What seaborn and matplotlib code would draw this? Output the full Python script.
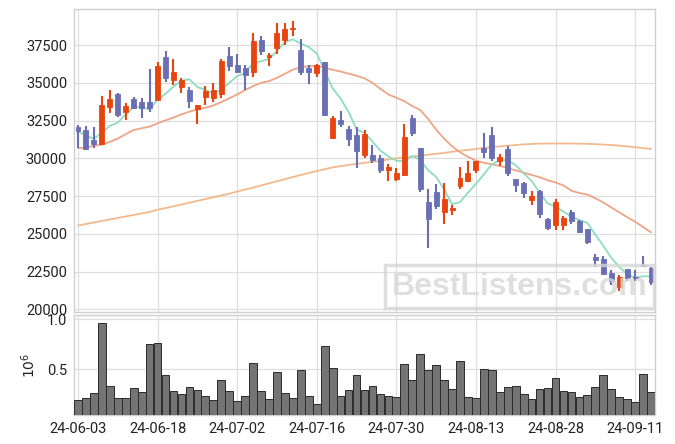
import numpy as np
import pandas as pd
import matplotlib
matplotlib.use("Agg")
import matplotlib.pyplot as plt
import seaborn as sns

# ---------------- data ----------------
opens = [32050, 31900, 31200, 30950, 33400, 34250, 33100, 33900, 33700, 33700,
         33850, 36700, 35200, 34700, 34550, 33250, 34050, 34000, 34250, 36750,
         36150, 35950, 35700, 37850, 36700, 37300, 37850, 38550, 37150, 36000,
         35650, 36350, 31350, 32550, 31950, 31550, 30250, 30200, 30050, 29250,
         28600, 28900, 32700, 30700, 27100, 27750, 26450, 26600, 28150, 28500,
         29250, 30650, 31550, 29850, 30600, 28650, 28350, 27250, 27850, 25950,
         25600, 25600, 26450, 25850, 25300, 23450, 23300, 22400, 21500, 22650,
         22150, 22950, 22750]
highs = [32200, 32150, 32100, 34150, 34500, 34300, 33650, 34050, 34000, 35900,
         36400, 37100, 36600, 35300, 34750, 33550, 34800, 35000, 36550, 37350,
         36900, 36200, 38300, 38100, 36950, 38950, 38950, 39100, 37900, 36200,
         36250, 36400, 32800, 33150, 32150, 32050, 31900, 30850, 30200, 29650,
         29350, 32300, 32900, 30700, 27950, 28300, 28350, 26900, 29400, 29850,
         29850, 31650, 32050, 30300, 30800, 28650, 28400, 27850, 27900, 26050,
         27300, 26200, 26600, 25900, 25300, 23650, 23500, 22600, 22250, 22650,
         22600, 23550, 22800]
lows = [30700, 30550, 30700, 30900, 33000, 32750, 32550, 33250, 32700, 33050,
        33850, 35050, 34850, 34300, 33300, 32300, 33550, 33700, 34000, 35800,
        35700, 34500, 35400, 36850, 36100, 36900, 37500, 38100, 35500, 34900,
        35400, 32850, 31250, 32050, 30800, 29350, 30050, 29700, 29050, 28500,
        28500, 28800, 31500, 27750, 24050, 26650, 25650, 26250, 27950, 28400,
        29050, 30000, 29850, 29500, 28850, 27750, 27350, 26900, 26050, 25250,
        25250, 25250, 25650, 25050, 24300, 22800, 22300, 21600, 21200, 21850,
        21850, 22800, 21600]
closes = [31800, 30600, 30950, 33500, 33900, 32850, 33450, 33300, 33300, 33300,
          36100, 35350, 35750, 35200, 33800, 33500, 34450, 34500, 36450, 36100,
          35700, 35500, 37750, 37100, 36850, 38300, 38550, 38600, 35700, 35700,
          36200, 32850, 32700, 32300, 31300, 30500, 31600, 29900, 29250, 29400,
          29050, 31400, 31650, 28000, 25950, 26850, 27300, 26700, 28700, 29050,
          29800, 30450, 30000, 30100, 29000, 28200, 27700, 27500, 26300, 25400,
          27100, 26050, 25850, 25150, 24450, 23250, 22350, 21850, 22150, 22050,
          22050, 22850, 21800]
volumes = [195000, 212000, 262000, 957000, 331000, 212000, 212000, 311000, 272000, 752000,
           758000, 440000, 285000, 252000, 320000, 295000, 232000, 195000, 390000, 285000,
           185000, 232000, 560000, 285000, 200000, 470000, 262000, 212000, 490000, 232000,
           152000, 728000, 510000, 232000, 290000, 440000, 290000, 330000, 252000, 232000,
           222000, 550000, 390000, 650000, 490000, 540000, 390000, 300000, 580000, 222000,
           212000, 500000, 490000, 272000, 320000, 330000, 252000, 200000, 300000, 310000,
           410000, 285000, 272000, 222000, 242000, 320000, 440000, 300000, 222000, 200000,
           172000, 450000, 272000]
ma_short = [31800, 31500, 31300, 31700, 32150, 32360, 32930, 33400, 33360, 33240,
            33890, 34270, 34760, 35140, 35240, 34720, 34540, 34290, 34540, 35000,
            35440, 35650, 36300, 36430, 36580, 37100, 37710, 37880, 37600, 37370,
            36950, 35810, 34630, 33950, 33070, 31930, 31680, 31120, 30510, 30130,
            29840, 29800, 30150, 29900, 29210, 28770, 27950, 26960, 27100, 27720,
            28310, 28940, 29600, 29880, 29870, 29550, 29000, 28500, 27740, 27020,
            26800, 26470, 26140, 25910, 25720, 24950, 24210, 23410, 22810, 22330,
            22090, 22190, 22180]
ma_mid = [30680, 30700, 30830, 30900, 31090, 31310, 31600, 31880, 31990, 32100,
          32320, 32520, 32700, 32910, 33090, 33240, 33350, 33500, 33720, 33970,
          34230, 34520, 34780, 35000, 35110, 35330, 35600, 35870, 36030, 36100,
          36140, 35990, 35860, 35750, 35610, 35470, 35300, 35000, 34600, 34230,
          34010, 33790, 33460, 33200, 32600, 31900, 31300, 30800, 30400, 30100,
          29850, 29700, 29600, 29500, 29350, 29200, 29050, 28900, 28750, 28550,
          28400, 28200, 27850, 27700, 27600, 27350, 27080, 26750, 26420, 26100,
          25800, 25450, 25100]
ma_long = [25550, 25650, 25750, 25850, 25950, 26050, 26150, 26250, 26350, 26450,
           26600, 26700, 26820, 26940, 27060, 27180, 27300, 27420, 27540, 27660,
           27800, 27930, 28060, 28200, 28340, 28480, 28620, 28760, 28900, 29030,
           29150, 29280, 29400, 29480, 29560, 29630, 29700, 29770, 29840, 29920,
           30000, 30060, 30120, 30180, 30240, 30300, 30360, 30430, 30500, 30560,
           30620, 30680, 30740, 30790, 30840, 30880, 30920, 30950, 30970, 30980,
           30980, 30980, 30980, 30970, 30960, 30940, 30910, 30880, 30840, 30790,
           30740, 30680, 30620]
tick_labels = ["24-06-03", "24-06-18", "24-07-02", "24-07-16",
               "24-07-30", "24-08-13", "24-08-28", "24-09-11"]
tick_every = 10

# ---------------- styling ----------------
sns.set_theme(style="whitegrid")
plt.rcParams['font.family'] = ['Roboto', 'DejaVu Sans']
UP = "#e8440f"
DOWN = "#6a6fb3"
GRID = "#dedede"
SPINE = "#d0d0d0"

df = pd.DataFrame({"i": np.arange(len(closes)), "open": opens, "high": highs,
                   "low": lows, "close": closes, "volume": volumes,
                   "ma5": ma_short, "ma20": ma_mid, "ma60": ma_long})
df["up"] = df["close"] >= df["open"]
df["vol_m"] = df["volume"] / 1e6

fig = plt.figure(figsize=(6.75, 4.44), dpi=100)
W, H = 675, 444
ax = fig.add_axes([74 / W, (H - 312) / H, (655 - 74) / W, (312 - 9) / H])
axv = fig.add_axes([74 / W, (H - 415) / H, (655 - 74) / W, (415 - 315) / H], sharex=ax)

# moving averages
sns.lineplot(data=df, x="i", y="ma60", ax=ax, color="#f2b98c", lw=1.3, zorder=2)
sns.lineplot(data=df, x="i", y="ma20", ax=ax, color="#eea586", lw=1.3, zorder=2)
sns.lineplot(data=df, x="i", y="ma5", ax=ax, color="#8fdcc2", lw=1.3, zorder=2)

# candles
colors = np.where(df["up"], UP, DOWN)
ax.vlines(df["i"], df["low"], df["high"], colors=colors, lw=1.5, zorder=3)
body_bottom = np.minimum(df["open"], df["close"])
body_h = np.maximum(np.abs(df["close"] - df["open"]), 60)
ax.bar(df["i"], body_h, bottom=body_bottom, width=0.62, color=colors,
       edgecolor=colors, lw=0.6, zorder=4)

ax.set_xlim(-0.5, len(df) - 0.5)
ax.set_ylim(19820, 39890)
ax.set_yticks([20000, 22500, 25000, 27500, 30000, 32500, 35000, 37500])
ax.set_xlabel("")
ax.set_ylabel("")

# volume
sns.barplot(data=df, x="i", y="vol_m", ax=axv, native_scale=True, color="#747474",
            edgecolor="#2a2a2a", linewidth=0.7, width=0.97, saturation=1, zorder=3)
axv.set_ylim(0.043, 1.04)
axv.set_yticks([0.5, 1.0])
axv.set_yticklabels(["0.5", "1.0"])
axv.set_ylabel(r"$10^{6}$", fontsize=10, color="#222222", labelpad=6)
axv.set_xlabel("")
axv.set_xlim(-0.5, len(df) - 0.5)

ticks = np.arange(0, len(df), tick_every)[:len(tick_labels)]
axv.set_xticks(ticks)
axv.set_xticklabels(tick_labels)
ax.tick_params(axis="x", labelbottom=False)

for a in (ax, axv):
    a.grid(True, color=GRID, lw=0.9)
    a.set_axisbelow(True)
    for s in a.spines.values():
        s.set_color(SPINE)
        s.set_linewidth(1.0)
    a.tick_params(axis="both", labelsize=10.5, colors="#222222", length=0, pad=5)
    a.set_facecolor("white")

# watermark
ax.text(0.767, 0.083, "BestListens.com", transform=ax.transAxes, ha="center", va="center",
        fontsize=23, fontweight="bold", family="Liberation Sans", color="#d8d8d8",
        alpha=0.8, zorder=6,
        bbox=dict(boxstyle="square,pad=0.2", facecolor="none", edgecolor="#d6d6d6",
                  lw=2.5, alpha=0.8))

fig.savefig("out.png", dpi=100, facecolor="white")
